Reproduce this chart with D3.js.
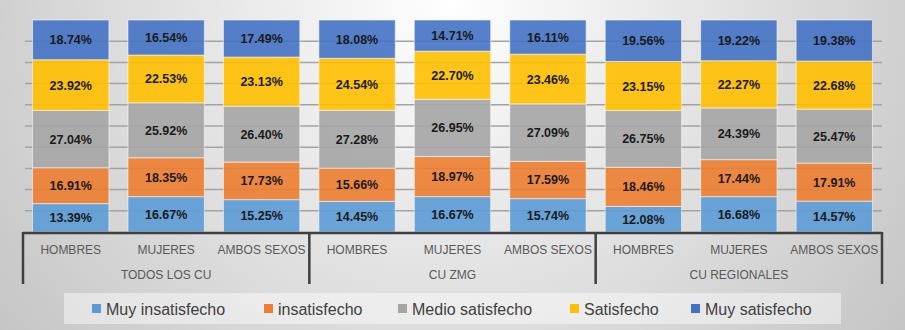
<!DOCTYPE html>
<html>
<head>
<meta charset="utf-8">
<script src="https://cdn.jsdelivr.net/npm/d3@7"></script>
<style>
  body { margin: 0; }
  svg { display: block; font-family: "Liberation Sans", Arial, sans-serif; }
</style>
</head>
<body>
<div id="chart"></div>
<script>
// groups on the x axis (outer / inner)
const groups = ["TODOS LOS CU", "CU ZMG", "CU REGIONALES"];
const sexes = ["HOMBRES", "MUJERES", "AMBOS SEXOS"];

// series, bottom to top
const seriesNames = ["Muy insatisfecho", "insatisfecho", "Medio satisfecho", "Satisfecho", "Muy satisfecho"];
const colors = ["#5B9BD5", "#ED7D31", "#A5A5A5", "#FFC000", "#4472C4"];

// one array per series, 9 bars each (TODOS H/M/A, ZMG H/M/A, REGIONALES H/M/A)
const muyInsatisfecho = [13.39, 16.67, 15.25, 14.45, 16.67, 15.74, 12.08, 16.68, 14.57];
const insatisfecho    = [16.91, 18.35, 17.73, 15.66, 18.97, 17.59, 18.46, 17.44, 17.91];
const medioSatisfecho = [27.04, 25.92, 26.40, 27.28, 26.95, 27.09, 26.75, 24.39, 25.47];
const satisfecho      = [23.92, 22.53, 23.13, 24.54, 22.70, 23.46, 23.15, 22.27, 22.68];
const muySatisfecho   = [18.74, 16.54, 17.49, 18.08, 14.71, 16.11, 19.56, 19.22, 19.38];

const yTicks = [0, 10, 20, 30, 40, 50, 60, 70, 80, 90, 100];

const W = 905, H = 330;
const plot = { left: 23, right: 882, top: 20, bottom: 232 };

// build the table for d3.stack
const seriesArrays = [muyInsatisfecho, insatisfecho, medioSatisfecho, satisfecho, muySatisfecho];
const data = [];
groups.forEach((g, gi) => {
  sexes.forEach((s, si) => {
    const i = gi * 3 + si;
    const row = { id: g + "|" + s, group: g, sex: s };
    seriesNames.forEach((k, ki) => row[k] = seriesArrays[ki][i]);
    data.push(row);
  });
});

const svg = d3.select("#chart").append("svg")
  .attr("width", W)
  .attr("height", H);

// background gradient
const defs = svg.append("defs");
const grad = defs.append("radialGradient")
  .attr("id", "bg")
  .attr("gradientUnits", "userSpaceOnUse")
  .attr("cx", 450).attr("cy", 0).attr("r", 580);
grad.append("stop").attr("offset", "0%").attr("stop-color", "#ffffff");
grad.append("stop").attr("offset", "100%").attr("stop-color", "#c3c3c3");

svg.append("rect")
  .attr("width", W).attr("height", H)
  .attr("fill", "url(#bg)");

const x = d3.scaleBand()
  .domain(data.map(d => d.id))
  .range([plot.left, plot.right])
  .paddingInner(0.2)
  .paddingOuter(0.1);

const y = d3.scaleLinear()
  .domain([0, 100])
  .range([plot.bottom, plot.top])
  .clamp(true);

// gridlines
svg.append("g")
  .selectAll("line")
  .data(yTicks.slice(1, -1))
  .join("line")
    .attr("x1", plot.left + 2)
    .attr("x2", plot.right)
    .attr("y1", d => y(d))
    .attr("y2", d => y(d))
    .attr("stroke", "#a3a3a3")
    .attr("stroke-width", 1.5);

const color = d3.scaleOrdinal().domain(seriesNames).range(colors);

const stacked = d3.stack().keys(seriesNames)(data);

// bars
const layers = svg.append("g")
  .selectAll("g")
  .data(stacked)
  .join("g")
    .attr("fill", d => color(d.key));

layers.selectAll("rect")
  .data(d => d)
  .join("rect")
    .attr("x", d => x(d.data.id))
    .attr("y", d => y(d[1]))
    .attr("width", x.bandwidth())
    .attr("height", d => y(d[0]) - y(d[1]))
    .attr("fill-opacity", 0.9)
    .attr("stroke", "#ffffff")
    .attr("stroke-opacity", 0.55)
    .attr("stroke-width", 1);

// value labels
layers.selectAll("text")
  .data(d => d.map(v => ({ v, key: d.key })))
  .join("text")
    .attr("x", d => x(d.v.data.id) + x.bandwidth() / 2)
    .attr("y", d => (y(d.v[0]) + y(d.v[1])) / 2)
    .attr("dy", "0.36em")
    .attr("text-anchor", "middle")
    .attr("fill", "#1a1a1a")
    .attr("font-size", "12.5px")
    .attr("font-weight", "bold")
    .text(d => d.v.data[d.key].toFixed(2) + "%");

// category axis
const axis = svg.append("g");
axis.append("line")
  .attr("x1", plot.left).attr("x2", plot.right)
  .attr("y1", plot.bottom + 1).attr("y2", plot.bottom + 1)
  .attr("stroke", "#3f3f3f")
  .attr("stroke-width", 2.5);

const step = x.step();
const dividers = d3.range(groups.length + 1).map(i => plot.left + i * 3 * step);
axis.selectAll(".div")
  .data(dividers)
  .join("line")
    .attr("class", "div")
    .attr("x1", d => d).attr("x2", d => d)
    .attr("y1", plot.bottom).attr("y2", 284)
    .attr("stroke", "#3f3f3f")
    .attr("stroke-width", 2.5);

axis.selectAll(".sex")
  .data(data)
  .join("text")
    .attr("class", "sex")
    .attr("x", d => x(d.id) + x.bandwidth() / 2)
    .attr("y", 254)
    .attr("text-anchor", "middle")
    .attr("fill", "#595959")
    .attr("font-size", "12px")
    .text(d => d.sex);

axis.selectAll(".grp")
  .data(groups)
  .join("text")
    .attr("class", "grp")
    .attr("x", (d, i) => (dividers[i] + dividers[i + 1]) / 2)
    .attr("y", 279)
    .attr("text-anchor", "middle")
    .attr("fill", "#595959")
    .attr("font-size", "12px")
    .text(d => d);

// legend
const legend = svg.append("g");
legend.append("rect")
  .attr("x", 64).attr("y", 293)
  .attr("width", 777).attr("height", 31)
  .attr("fill", "#ffffff")
  .attr("fill-opacity", 0.45);

const legendX = [92, 264, 398, 570, 691];
const items = legend.selectAll("g")
  .data(seriesNames)
  .join("g")
    .attr("transform", (d, i) => `translate(${legendX[i]},309)`);

items.append("rect")
  .attr("x", 0).attr("y", -5)
  .attr("width", 9).attr("height", 9)
  .attr("fill", d => color(d));

items.append("text")
  .attr("x", 14)
  .attr("dy", "0.35em")
  .attr("fill", "#404040")
  .attr("font-size", "16px")
  .text(d => d);
</script>
</body>
</html>
